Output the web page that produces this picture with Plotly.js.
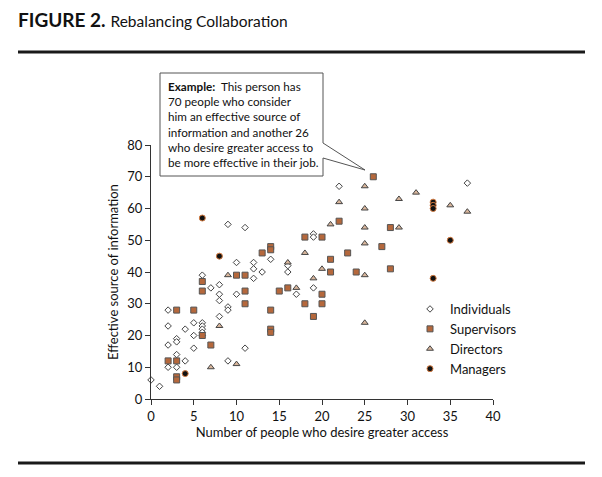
<!DOCTYPE html>
<html>
<head>
<meta charset="utf-8">
<script src="https://cdn.plot.ly/plotly-3.0.1.min.js"></script>
<style>html,body{margin:0;padding:0;background:#fff;}#chart{width:602px;height:477px;}</style>
</head>
<body>
<div id="chart"></div>
<script>
// ---- data ----
const individualsX = [0,1,2,2,2,2,3,3,3,3,4,4,5,5,5,6,6,6,6,6,6,7,8,8,8,8,9,9,9,9,10,10,11,11,12,12,12,13,14,16,16,17,19,19,19,22,37];
const individualsY = [6,4,28,23,17,10,19,18,14,10,22,12,24,20,16,24,23,22,21,20,39,35,36,33,31,26,29,28,12,55,43,33,54,16,43,41,38,40,44,42,40,33,52,51,35,67,68];

const supervisorsX = [2,3,3,3,3,5,6,6,6,7,10,11,11,11,13,14,14,14,14,14,15,16,18,18,19,20,20,20,21,21,22,23,24,26,27,28,28];
const supervisorsY = [12,12,7,6,28,28,37,34,20,17,39,39,34,30,46,48,47,28,22,21,34,35,51,30,26,51,33,30,44,40,56,46,40,70,48,54,41];

const directorsX = [7,8,9,10,16,17,18,19,20,21,22,25,25,25,25,25,25,29,29,31,35,37];
const directorsY = [10,23,39,11,43,35,46,38,41,55,62,67,60,54,49,39,24,63,54,65,61,59];

const managersX = [4,6,8,33,33,33,35,33];
const managersY = [8,57,45,62,61,60,50,38];

const seriesNames = ["Individuals","Supervisors","Directors","Managers"];
const xTicks = [0,5,10,15,20,25,30,35,40];
const yTicks = [0,10,20,30,40,50,60,70,80];
const calloutLines = ["<b>Example:</b>  This person has","70 people who consider","him an effective source of","information and another 26","who desire greater access to","be more effective in their job."];

// ---- layout helpers (pixel -> paper) ----
const L = 151, R = 109, T = 145, B = 78, W = 602, H = 477;
const PW = W - L - R, PH = H - T - B;
const X = px => (px - L) / PW;
const Y = py => (H - B - py) / PH;

const FONT = "Lato, 'DejaVu Sans', sans-serif";
const ink = "#333";

const traces = [
  {x: individualsX, y: individualsY, name: seriesNames[0], type: "scatter", mode: "markers", cliponaxis: false,
   marker: {symbol: "diamond", size: 5, color: "#ffffff", line: {color: "#444", width: 1}}},
  {x: supervisorsX, y: supervisorsY, name: seriesNames[1], type: "scatter", mode: "markers", cliponaxis: false,
   marker: {symbol: "square", size: 6, color: "#b5683c", line: {color: "#555", width: 1}}},
  {x: directorsX, y: directorsY, name: seriesNames[2], type: "scatter", mode: "markers", cliponaxis: false,
   marker: {symbol: "triangle-up", size: 6, color: "#d9b69c", line: {color: "#444", width: 1}}},
  {x: managersX, y: managersY, name: seriesNames[3], type: "scatter", mode: "markers", cliponaxis: false,
   marker: {symbol: "circle", size: 6, color: "#111", line: {color: "#d27a40", width: 1}}}
];

const boxPath = `M ${X(160)} ${Y(73)} L ${X(323)} ${Y(73)} L ${X(323)} ${Y(143)} L ${X(365)} ${Y(170)} L ${X(323)} ${Y(158)} L ${X(323)} ${Y(176)} L ${X(160)} ${Y(176)} Z`;

const layout = {
  width: W, height: H,
  margin: {l: L, r: R, t: T, b: B, pad: 0},
  paper_bgcolor: "#fff", plot_bgcolor: "#fff",
  font: {family: FONT, color: "#222", size: 12},
  showlegend: true,
  title: {
    text: "<b>FIGURE 2.</b> <span style='font-size:15.5px'>Rebalancing Collaboration</span>",
    font: {family: FONT, size: 19, color: "#111"},
    x: 18 / W, xanchor: "left", xref: "container",
    y: 1 - 20 / H, yanchor: "middle", yref: "container"
  },
  xaxis: {
    range: [0, 40], tickvals: xTicks, ticktext: xTicks.map(String),
    showgrid: false, zeroline: false, showline: true, linecolor: ink, linewidth: 1,
    ticks: "outside", ticklen: 5, tickcolor: ink, tickwidth: 1,
    tickfont: {family: FONT, size: 13, color: "#111"},
    title: {text: "Number of people who desire greater access", font: {family: FONT, size: 13, color: "#111"}, standoff: 4},
    fixedrange: true
  },
  yaxis: {
    range: [0, 80], tickvals: yTicks, ticktext: yTicks.map(String),
    showgrid: false, zeroline: false, showline: true, linecolor: ink, linewidth: 1,
    ticks: "outside", ticklen: 5, tickcolor: ink, tickwidth: 1,
    tickfont: {family: FONT, size: 13, color: "#111"},
    title: {text: "Effective source of information", font: {family: FONT, size: 13, color: "#111"}, standoff: 5},
    fixedrange: true
  },
  legend: {
    x: X(410), y: Y(294), xanchor: "left", yanchor: "top",
    bgcolor: "rgba(0,0,0,0)", borderwidth: 0,
    font: {family: FONT, size: 13, color: "#111"},
    tracegroupgap: 0, itemwidth: 30
  },
  shapes: [
    {type: "line", xref: "paper", yref: "paper", x0: X(18), x1: X(585), y0: Y(52), y1: Y(52), line: {color: "#1a1a1a", width: 3}},
    {type: "line", xref: "paper", yref: "paper", x0: X(18), x1: X(585), y0: Y(463), y1: Y(463), line: {color: "#1a1a1a", width: 3}},
    {type: "path", xref: "paper", yref: "paper", path: boxPath, fillcolor: "#fff", line: {color: "#555", width: 1}, layer: "above"}
  ],
  annotations: [
    {xref: "paper", yref: "paper", x: X(166), y: Y(77), xanchor: "left", yanchor: "top", align: "left",
     showarrow: false, text: calloutLines.join("<br>"), font: {family: FONT, size: 11.7, color: "#111"}}
  ]
};

Plotly.newPlot("chart", traces, layout, {displayModeBar: false, staticPlot: true});
</script>
</body>
</html>
